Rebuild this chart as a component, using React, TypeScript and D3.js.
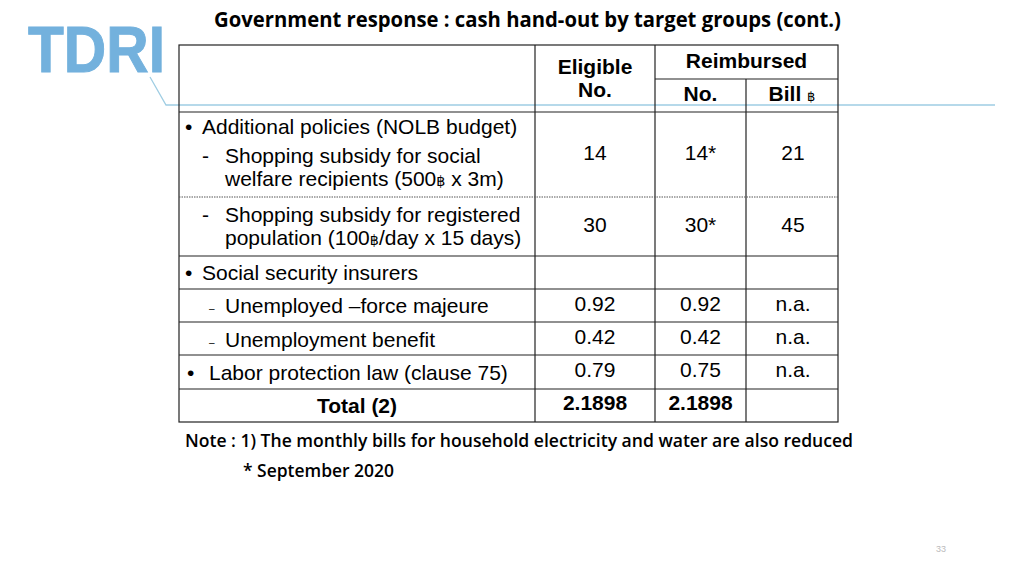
import React from "react";
import * as d3 from "d3";

// ---- data ----
const title = "Government response : cash hand-out by target groups (cont.)";
const headerEligible = ["Eligible", "No."];
const headerReimbursed = "Reimbursed";
const headerSub = ["No.", "Bill"];

type Line = { marker: string; text: string; kind: "bullet" | "dash" | "minus" | "cont" | "total" };
const rowLabels: Line[][] = [
  [
    { marker: "•", text: "Additional policies (NOLB budget)", kind: "bullet" },
    { marker: "-", text: "Shopping subsidy for social", kind: "dash" },
    { marker: "", text: "welfare recipients (500|฿| x 3m)", kind: "cont" },
  ],
  [
    { marker: "-", text: "Shopping subsidy for registered", kind: "dash" },
    { marker: "", text: "population (100|฿|/day x 15 days)", kind: "cont" },
  ],
  [{ marker: "•", text: "Social security insurers", kind: "bullet" }],
  [{ marker: "–", text: "Unemployed –force majeure", kind: "minus" }],
  [{ marker: "–", text: "Unemployment benefit", kind: "minus" }],
  [{ marker: "•", text: "Labor protection law (clause 75)", kind: "bullet" }],
  [{ marker: "", text: "Total (2)", kind: "total" }],
];
const eligibleNo = ["14", "30", "", "0.92", "0.42", "0.79", "2.1898"];
const reimbursedNo = ["14*", "30*", "", "0.92", "0.42", "0.75", "2.1898"];
const reimbursedBill = ["21", "45", "", "n.a.", "n.a.", "n.a.", ""];
const noteLines = [
  "Note : 1) The monthly bills for household electricity and water are also reduced",
  "* September 2020",
];
const pageNumber = "33";

// ---- layout ----
const W = 1024;
const H = 576;
const tableLeft = 179;
const colEdges = [179, 535, 655, 746, 838];
const headerTop = 45;
const headerSplit = 79;
const headerBottom = 112;
const rowHeights = [85, 59, 33, 33, 33, 34, 33];
const rowEdges = [headerBottom, ...Array.from(d3.cumsum(rowHeights), (v) => headerBottom + v)];

const tableFont = "'Liberation Sans', Arial, sans-serif";
const titleFont = "'Open Sans', 'Noto Sans', sans-serif";

function BahtText({ s, size }: { s: string; size: number }) {
  const parts = s.split("|");
  return (
    <>
      {parts.map((p, i) =>
        p === "฿" ? (
          <tspan key={i} fontSize={size * 0.68} fontFamily="'DejaVu Sans', sans-serif">
            ฿
          </tspan>
        ) : (
          <tspan key={i}>{p}</tspan>
        )
      )}
    </>
  );
}

export default function App() {
  const colCenter = d3
    .scaleOrdinal<string, number>()
    .domain(["label", "eligible", "rno", "bill"])
    .range(colEdges.slice(0, 4).map((e, i) => (e + colEdges[i + 1]) / 2));
  const rowScale = d3
    .scaleOrdinal<number, number>()
    .domain(d3.range(rowHeights.length))
    .range(rowEdges.slice(0, -1));

  const fs = 21;
  const valueDy = [5, 5, 0, 5, 5, 5, 4];
  const lineYs: number[][] = [[22, 51, 74], [25, 48], [24], [24], [25], [25], [24]];
  const bottom = rowEdges[rowEdges.length - 1];

  return (
    <div style={{ position: "absolute", left: 0, top: 0 }}>
      <svg width={W} height={H} style={{ display: "block", background: "#fff" }}>
        {/* logo */}
        <text
          x={28}
          y={72}
          fontFamily="'Liberation Sans', Arial, sans-serif"
          fontWeight={700}
          fontSize={65}
          fill="#73b1dd"
          stroke="#73b1dd"
          strokeWidth={1}
          textLength={137}
          lengthAdjust="spacingAndGlyphs"
        >
          TDRI
        </text>
        <path d="M150,77 L166,105 L995,105" fill="none" stroke="#9fcde3" strokeWidth={1.3} />

        {/* title */}
        <text
          x={214}
          y={27}
          fontFamily={titleFont}
          fontWeight={700}
          fontSize={21}
          fill="#000"
          textLength={627}
          lengthAdjust="spacingAndGlyphs"
        >
          {title}
        </text>

        {/* table grid */}
        <g stroke="#222" strokeWidth={1.2} fill="none">
          <rect x={tableLeft} y={headerTop} width={colEdges[4] - tableLeft} height={bottom - headerTop} />
          {colEdges.slice(1, 4).map((x, i) => (
            <line key={i} x1={x} x2={x} y1={i === 2 ? headerSplit : headerTop} y2={bottom} />
          ))}
          <line x1={colEdges[2]} x2={colEdges[4]} y1={headerSplit} y2={headerSplit} />
          <line x1={tableLeft} x2={colEdges[4]} y1={headerBottom} y2={headerBottom} />
          {rowEdges.slice(1, -1).map((y, i) => (
            <line
              key={i}
              x1={tableLeft}
              x2={colEdges[4]}
              y1={y}
              y2={y}
              strokeDasharray={i === 0 ? "1.5,1" : undefined}
              stroke={i === 0 ? "#555" : "#222"}
              strokeWidth={i === 0 ? 1 : 1.2}
            />
          ))}
        </g>

        {/* header text */}
        <g fontFamily={tableFont} fontWeight={700} fontSize={fs} fill="#000" textAnchor="middle">
          <text x={colCenter("eligible")} y={74}>{headerEligible[0]}</text>
          <text x={colCenter("eligible")} y={97}>{headerEligible[1]}</text>
          <text x={(colEdges[2] + colEdges[4]) / 2} y={68}>{headerReimbursed}</text>
          <text x={colCenter("rno")} y={101}>{headerSub[0]}</text>
          <text x={colCenter("bill")} y={101}>
            {headerSub[1]}{" "}
            <tspan fontSize={13} fontWeight={400} fontFamily="'DejaVu Sans', sans-serif">฿</tspan>
          </text>
        </g>

        {/* row labels */}
        <g fontFamily={tableFont} fontSize={fs} fill="#000">
          {rowLabels.map((lines, r) =>
            lines.map((ln, j) => {
              const y = rowScale(r) + lineYs[r][j];
              if (ln.kind === "total") {
                return (
                  <text key={`${r}-${j}`} x={colCenter("label")} y={y} textAnchor="middle" fontWeight={700}>
                    {ln.text}
                  </text>
                );
              }
              const isLabor = r === 5;
              const markerX = ln.kind === "bullet" ? (isLabor ? 187 : 185) : ln.kind === "dash" ? 202 : 209;
              const textX = ln.kind === "bullet" ? (isLabor ? 209 : 202) : 225;
              return (
                <g key={`${r}-${j}`}>
                  {ln.marker && (
                    <text x={markerX} y={ln.kind === "minus" ? y - 1 : y} fontSize={ln.kind === "minus" ? 10 : fs}>
                      {ln.marker}
                    </text>
                  )}
                  <text x={textX} y={y}>
                    <BahtText s={ln.text} size={fs} />
                  </text>
                </g>
              );
            })
          )}
        </g>

        {/* values */}
        <g fontFamily={tableFont} fontSize={fs} fill="#000" textAnchor="middle">
          {rowHeights.map((h, r) => {
            const y = rowScale(r) + h / 2 + valueDy[r];
            const bold = r === rowHeights.length - 1 ? 700 : 400;
            return (
              <g key={r} fontWeight={bold}>
                <text x={colCenter("eligible")} y={y}>{eligibleNo[r]}</text>
                <text x={colCenter("rno")} y={y}>{reimbursedNo[r]}</text>
                <text x={colCenter("bill") + 1} y={y}>{reimbursedBill[r]}</text>
              </g>
            );
          })}
        </g>

        {/* notes */}
        <text
          x={185}
          y={447}
          fontFamily={titleFont}
          fontWeight={600}
          fontSize={18}
          fill="#000"
          textLength={668}
          lengthAdjust="spacingAndGlyphs"
        >
          {noteLines[0]}
        </text>
        <text
          x={243}
          y={477}
          fontFamily={titleFont}
          fontWeight={600}
          fontSize={18}
          fill="#000"
          textLength={151}
          lengthAdjust="spacingAndGlyphs"
        >
          {noteLines[1]}
        </text>

        <text x={941} y={552} fontFamily={tableFont} fontSize={9} fill="#bbb" textAnchor="middle">
          {pageNumber}
        </text>
      </svg>
    </div>
  );
}
